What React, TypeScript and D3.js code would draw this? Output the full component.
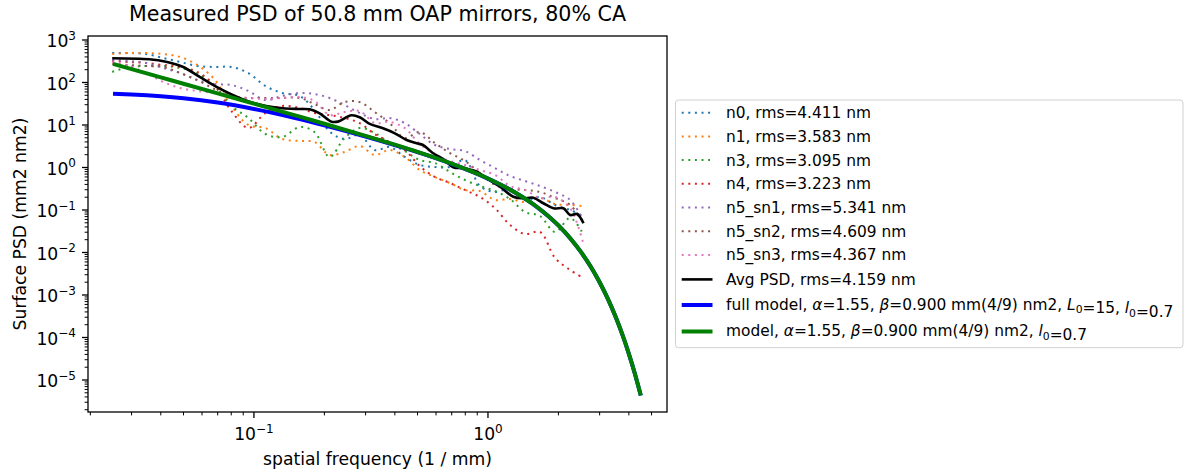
import React from "react";
import * as d3 from "d3";

// ---------- data ----------
const freq = [0.0248, 0.0293, 0.0346, 0.041, 0.0484, 0.0573, 0.0677, 0.0801, 0.0947, 0.112, 0.132, 0.157, 0.1815, 0.2105, 0.244, 0.283, 0.328, 0.38, 0.441, 0.511, 0.593, 0.688, 0.797, 0.924, 1.071, 1.242, 1.44, 1.669, 1.935, 2.244, 2.552];

const n0 = [494, 494, 469, 377, 304, 244, 232, 232, 167, 82.7, 56.6, 48.1, 22.5, 7.0, 4.69, 5.82, 2.58, 3.04, 1.77, 1.15, 1.03, 1.03, 1.5, 0.367, 0.265, 0.312, 0.172, 0.202, 0.131, 0.1, 0.0722];
const n1 = [469, 494, 494, 469, 398, 258, 120, 28.0, 10, 8.5, 4.69, 4.2, 3.98, 1.97, 2.32, 3.2, 1.97, 2.58, 1.77, 0.873, 0.598, 0.432, 0.296, 0.28, 0.172, 0.181, 0.154, 0.192, 0.138, 0.131, 0.124];
const n3 = [177, 232, 244, 244, 219, 167, 82.7, 28.0, 14.6, 6.14, 5.22, 8.97, 6.84, 1.77, 4.94, 8.5, 6.48, 3.77, 2.44, 1.5, 1.28, 0.784, 0.508, 0.367, 0.28, 0.181, 0.0897, 0.0722, 0.0304, 0.0648, 0.0272];
const n4 = [321, 304, 288, 258, 232, 177, 87.3, 21.4, 8.5, 19.2, 28.0, 25.1, 19.2, 17.2, 14.6, 11.1, 6.14, 3.98, 2.58, 1.08, 0.598, 0.432, 0.296, 0.202, 0.111, 0.0444, 0.0272, 0.0304, 0.00743, 0.00388, 0.00251];
const n5sn1 = [338, 321, 288, 219, 167, 114, 92.2, 87.3, 63.1, 38.7, 48.1, 56.6, 53.6, 43.2, 29.6, 19.2, 13.8, 14.6, 11.1, 6.14, 3.38, 2.72, 2.44, 1.5, 0.973, 0.631, 0.481, 0.367, 0.265, 0.172, 0.0582];
const n5sn2 = [272, 258, 244, 232, 167, 114, 70.3, 48.1, 43.2, 43.2, 43.2, 43.2, 31.2, 22.5, 34.8, 34.8, 20.2, 11.1, 4.94, 6.84, 3.77, 2.19, 1.42, 0.742, 0.388, 0.312, 0.296, 0.265, 0.192, 0.131, 0.0522];
const n5sn3 = [304, 244, 167, 103, 74.2, 63.1, 56.6, 45.6, 43.2, 40.9, 43.2, 45.6, 36.7, 17.2, 20.2, 21.4, 11.1, 11.8, 8.5, 3.57, 2.08, 1.42, 1.15, 0.873, 0.667, 0.367, 0.296, 0.192, 0.202, 0.111, 0.0167];

const avgFreq = [0.0248, 0.0357, 0.0421, 0.0496, 0.0584, 0.0689, 0.0811, 0.0957, 0.1128, 0.1328, 0.1566, 0.173, 0.191, 0.214, 0.2286, 0.261, 0.283, 0.3126, 0.356, 0.4, 0.449, 0.495, 0.528, 0.583, 0.644, 0.71, 0.784, 0.895, 0.987, 1.126, 1.283, 1.416, 1.563, 1.725, 1.905, 2.1, 2.245, 2.4, 2.56];
const avgPsd = [371, 351, 308, 235, 137, 79.6, 50.8, 35.3, 28.0, 24.7, 23.8, 23.4, 18.8, 12.0, 12.0, 16.9, 15.2, 10.6, 8.36, 6.38, 4.44, 3.71, 3.38, 2.16, 1.585, 1.01, 0.957, 0.797, 0.557, 0.353, 0.2055, 0.188, 0.1945, 0.144, 0.1096, 0.1096, 0.0763, 0.0805, 0.0487];

const modelFreq = [0.025, 0.03, 0.04, 0.05, 0.07, 0.1, 0.15, 0.2, 0.3, 0.4, 0.5, 0.7, 1.0, 1.3, 1.6, 2.0, 2.25, 2.5, 2.75, 3.0, 3.25, 3.5, 3.75, 4.0, 4.25, 4.5];
const fullModelPsd = [54.0, 51.9, 47.2, 42.4, 33.7, 23.9, 14.65, 9.86, 5.36, 3.37, 2.3, 1.222, 0.549, 0.2615, 0.1238, 0.0433, 0.0214, 0.01016, 0.00461, 0.00199, 0.000819, 0.000319, 0.000118, 0.0000413, 0.0000137, 0.0000043];
const modelPsd = [274, 206, 132, 93.5, 55.5, 31.8, 16.85, 10.7, 5.57, 3.44, 2.33, 1.23, 0.551, 0.262, 0.124, 0.0433, 0.0214, 0.01017, 0.00461, 0.00199, 0.000819, 0.000319, 0.000118, 0.0000413, 0.0000137, 0.0000043];

const seriesLabels = ["n0, rms=4.411 nm", "n1, rms=3.583 nm", "n3, rms=3.095 nm", "n4, rms=3.223 nm", "n5_sn1, rms=5.341 nm", "n5_sn2, rms=4.609 nm", "n5_sn3, rms=4.367 nm"];
const seriesValues = [n0, n1, n3, n4, n5sn1, n5sn2, n5sn3];
const seriesColors = ["#1f77b4", "#ff7f0e", "#2ca02c", "#d62728", "#9467bd", "#8c564b", "#e377c2"];
const avgLabel = "Avg PSD, rms=4.159 nm";

const yTickExps = [-5, -4, -3, -2, -1, 0, 1, 2, 3];
const xTickExps = [-1, 0];

const titleText = "Measured PSD of 50.8 mm OAP mirrors, 80% CA";
const xLabelText = "spatial frequency (1 / mm)";
const yLabelText = "Surface PSD (mm2 nm2)";

// ---------- layout ----------
const W = 1185, H = 470;
const L = 88, R = 667, T = 36, B = 412;
const FONT = "DejaVu Sans, Verdana, sans-serif";
const TFS = 17.2; // tick / label font
const LFS = 15.4; // legend font
const DOT_W = 2;
const DOT_DASH = "2 4.6";
const AVG_W = 2.6;
const MODEL_W = 4;

function expStr(e: number) {
  return e < 0 ? "\u2212" + Math.abs(e) : String(e);
}

export default function App() {
  const x = d3.scaleLog().domain([Math.pow(10, -1.709), Math.pow(10, 0.765)]).range([L, R]);
  const y = d3.scaleLog().domain([Math.pow(10, -5.753), Math.pow(10, 3.094)]).range([B, T]);

  const smooth = d3.line<[number, number]>().x(d => x(d[0])).y(d => y(d[1])).curve(d3.curveCatmullRom.alpha(0.5));
  const mono = d3.line<[number, number]>().x(d => x(d[0])).y(d => y(d[1])).curve(d3.curveMonotoneX);

  const zip = (a: number[], b: number[]) => a.map((v, i) => [v, b[i]] as [number, number]);

  // minor ticks
  const [x0, x1] = x.domain();
  const xMinor: number[] = [];
  for (let e = -3; e <= 1; e++) for (let k = 2; k <= 9; k++) { const v = k * Math.pow(10, e); if (v >= x0 && v <= x1) xMinor.push(v); }
  const [y0, y1] = y.domain();
  const yMinor: number[] = [];
  for (let e = -7; e <= 3; e++) for (let k = 2; k <= 9; k++) { const v = k * Math.pow(10, e); if (v >= y0 && v <= y1) yMinor.push(v); }

  // legend
  const legL = 675.5, legT = 100, legR = 1183, legB = 347.7;
  const rowY = [112.7, 136.4, 160.1, 183.8, 207.5, 231.2, 254.9, 279.4, 305.0, 331.5];
  const hx0 = 681.7, hx1 = 712.5, tx = 726;

  const sub0 = (
    <>
      <tspan dy={3.5} fontSize={10.8}>0</tspan>
      <tspan dy={-3.5}>{""}</tspan>
    </>
  );

  return (
    <svg width={W} height={H} style={{ position: "absolute", left: 0, top: 0, background: "#fff" }} fontFamily={FONT}>
      <rect x={0} y={0} width={W} height={H} fill="#fff" />
      <defs>
        <clipPath id="plotclip"><rect x={L} y={T} width={R - L} height={B - T} /></clipPath>
      </defs>

      {/* data */}
      <g clipPath="url(#plotclip)" fill="none">
        {seriesValues.map((vals, i) => (
          <path key={i} d={smooth(zip(freq, vals)) || ""} stroke={seriesColors[i]} strokeWidth={DOT_W} strokeDasharray={DOT_DASH} />
        ))}
        <path d={smooth(zip(avgFreq, avgPsd)) || ""} stroke="#000" strokeWidth={AVG_W} />
        <path d={mono(zip(modelFreq, fullModelPsd)) || ""} stroke="#0000ff" strokeWidth={MODEL_W} />
        <path d={mono(zip(modelFreq, modelPsd)) || ""} stroke="#008000" strokeWidth={MODEL_W} />
      </g>

      {/* frame */}
      <rect x={L} y={T} width={R - L} height={B - T} fill="none" stroke="#000" strokeWidth={1.3} />

      {/* y ticks */}
      {yMinor.map((v, i) => (
        <line key={"ym" + i} x1={L} x2={L - 3.4} y1={y(v)} y2={y(v)} stroke="#000" strokeWidth={1} />
      ))}
      {yTickExps.map(e => {
        const yy = y(Math.pow(10, e));
        return (
          <g key={"yt" + e}>
            <line x1={L} x2={L - 6} y1={yy} y2={yy} stroke="#000" strokeWidth={1.3} />
            <text x={L - 12} y={yy + 7.5} textAnchor="end" fontSize={TFS} fill="#000">
              10<tspan dy={-7.5} fontSize={12}>{expStr(e)}</tspan>
            </text>
          </g>
        );
      })}

      {/* x ticks */}
      {xMinor.map((v, i) => (
        <line key={"xm" + i} x1={x(v)} x2={x(v)} y1={B} y2={B + 3.4} stroke="#000" strokeWidth={1} />
      ))}
      {xTickExps.map(e => {
        const xx = x(Math.pow(10, e));
        return (
          <g key={"xt" + e}>
            <line x1={xx} x2={xx} y1={B} y2={B + 6} stroke="#000" strokeWidth={1.3} />
            <text x={xx} y={440} textAnchor="middle" fontSize={TFS} fill="#000">
              10<tspan dy={-7.5} fontSize={12}>{expStr(e)}</tspan>
            </text>
          </g>
        );
      })}

      {/* labels */}
      <text x={(L + R) / 2} y={21} textAnchor="middle" fontSize={20.6} fill="#000">{titleText}</text>
      <text x={(L + R) / 2} y={465} textAnchor="middle" fontSize={TFS} fill="#000">{xLabelText}</text>
      <text transform={`translate(26,${(T + B) / 2}) rotate(-90)`} textAnchor="middle" fontSize={TFS} fill="#000">{yLabelText}</text>

      {/* legend */}
      <rect x={legL} y={legT} width={legR - legL} height={legB - legT} rx={3} fill="#fff" fillOpacity={0.8} stroke="#d0d0d0" strokeWidth={1} />
      {seriesLabels.map((lab, i) => (
        <g key={"lg" + i}>
          <line x1={hx0} x2={hx1} y1={rowY[i]} y2={rowY[i]} stroke={seriesColors[i]} strokeWidth={DOT_W} strokeDasharray={DOT_DASH} />
          <text x={tx} y={rowY[i] + 5.5} fontSize={LFS} fill="#000">{lab}</text>
        </g>
      ))}
      <line x1={hx0} x2={hx1} y1={rowY[7]} y2={rowY[7]} stroke="#000" strokeWidth={AVG_W} />
      <text x={tx} y={rowY[7] + 5.5} fontSize={LFS} fill="#000">{avgLabel}</text>

      <line x1={hx0} x2={hx1} y1={rowY[8]} y2={rowY[8]} stroke="#0000ff" strokeWidth={MODEL_W} />
      <text x={tx} y={rowY[8] + 4.5} fontSize={LFS} fill="#000">
        full model, <tspan fontStyle="italic">α</tspan>=1.55, <tspan fontStyle="italic">β</tspan>=0.900 mm(4/9) nm2, <tspan fontStyle="italic">L</tspan>{sub0}=15, <tspan fontStyle="italic">l</tspan>{sub0}=0.7
      </text>

      <line x1={hx0} x2={hx1} y1={rowY[9]} y2={rowY[9]} stroke="#008000" strokeWidth={MODEL_W} />
      <text x={tx} y={rowY[9] + 4.5} fontSize={LFS} fill="#000">
        model, <tspan fontStyle="italic">α</tspan>=1.55, <tspan fontStyle="italic">β</tspan>=0.900 mm(4/9) nm2, <tspan fontStyle="italic">l</tspan>{sub0}=0.7
      </text>
    </svg>
  );
}
